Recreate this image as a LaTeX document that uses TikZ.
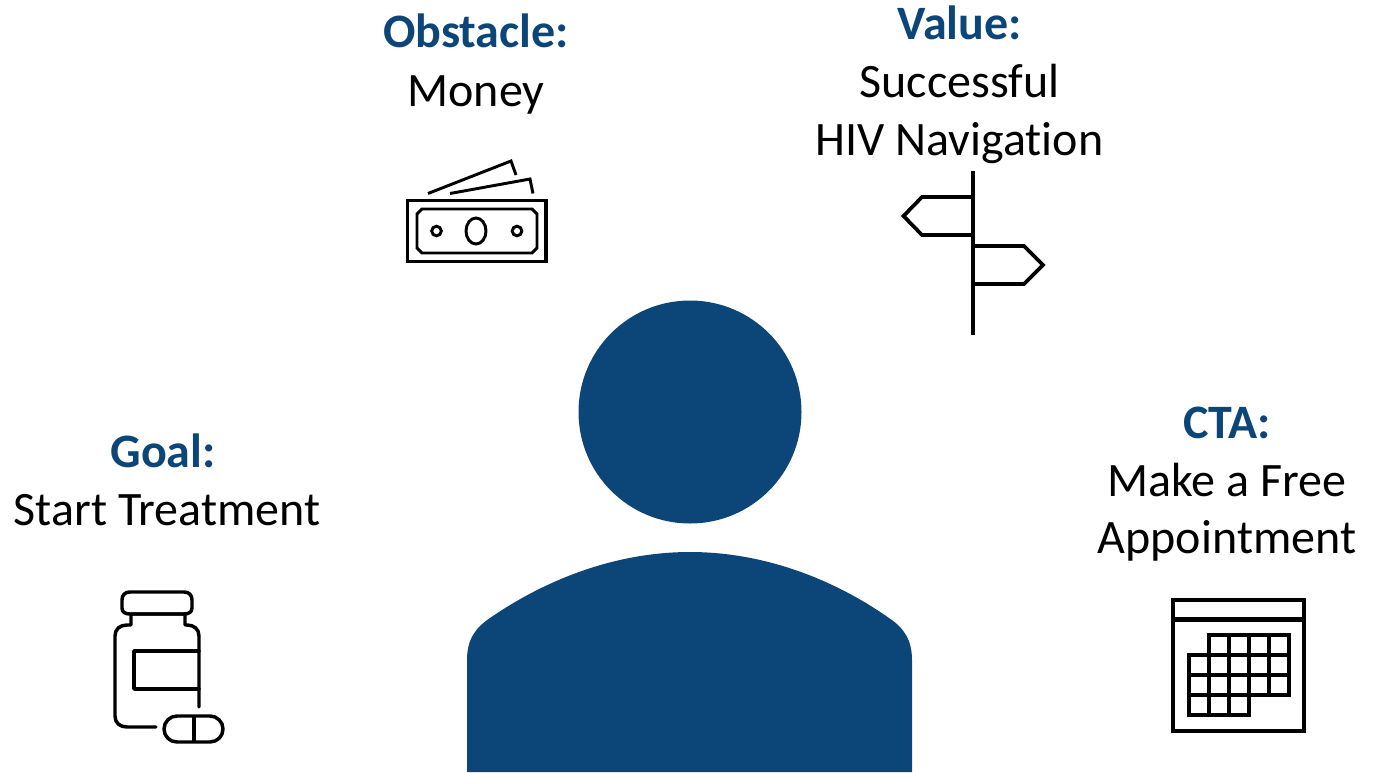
\documentclass[tikz,border=0pt]{standalone}
\usepackage{fontspec}
\setmainfont[Ligatures=NoCommon]{Carlito}
\definecolor{navy}{HTML}{0C4678}
\tikzset{
  x=0.75pt,y=-0.75pt,
  hd/.style={anchor=base,inner sep=0pt,font=\fontsize{36pt}{40pt}\selectfont\bfseries,text=navy},
  tx/.style={anchor=base,inner sep=0pt,font=\fontsize{36pt}{40pt}\selectfont,text=black},
  icon/.style={draw=black,line width=2.8pt,line join=miter},
  iconr/.style={draw=black,line width=2.6pt,line join=round,line cap=round}
}
\begin{document}
\begin{tikzpicture}
\useasboundingbox (0,0) rectangle (1378,772);
% person
\fill[navy] (690,412) circle[radius=111.5];
\fill[navy] (467,772) -- (467,660) .. controls (467,640) and (475,628) .. (490,618)
  .. controls (545,580) and (615,552) .. (690,552)
  .. controls (765,552) and (835,580) .. (889,618)
  .. controls (904,628) and (912,640) .. (912,660) -- (912,772) -- cycle;
% texts
\node[hd] (obs) at (476,47.5) {Obstacle:};
\node[tx] (money) at (476,106) {Money};
\node[hd] (val) at (959.5,39.5) {Value:};
\node[tx] (succ) at (959.5,97.5) {Successful};
\node[tx] (hiv) at (959.5,155.5) {HIV Navigation};
\node[hd] (goal) at (163,467.5) {Goal:};
\node[tx] (start) at (167,525.5) {Start Treatment};
\node[hd] (cta) at (1227,438.5) {CTA:};
\node[tx] (make) at (1227,496) {Make a Free};
\node[tx] (appt) at (1227,553.5) {Appointment};
% money icon
\draw[icon,line width=2.5pt] (407.5,200.5) rectangle (546,261.5);
\draw[icon,line width=2.2pt] (422,209) -- (532,209) -- (537,214) -- (537,248) -- (532,253) -- (422,253) -- (417,248) -- (417,214) -- cycle;
\draw[icon,line width=2.2pt] (476,231) ellipse[x radius=10,y radius=13];
\draw[icon,line width=2.2pt] (436.5,231) circle[radius=4.8];
\draw[icon,line width=2.2pt] (517,231) circle[radius=4.8];
\draw[icon,line width=2.2pt] (428,193.5) -- (511,161) -- (516,175);
\draw[icon,line width=2.2pt] (450,193.5) -- (530,179) -- (533,193.5);
% signpost
\draw[icon] (973,171) -- (973,335);
\draw[icon] (973,197) -- (922,197) -- (903.5,216) -- (922,235) -- (973,235);
\draw[icon] (973,246) -- (1024,246) -- (1043,265) -- (1024,284) -- (973,284);
% bottle
\draw[iconr] (199,707) -- (199,636) .. controls (199,629) and (194,625) .. (187,625) -- (185,625) -- (185,614) -- (131,614) -- (131,625) -- (127,625)
  .. controls (120,625) and (115,629) .. (115,636) -- (115,716) .. controls (115,723) and (120,727) .. (127,727) -- (156,727);
\draw[iconr] (130,614) .. controls (125,614) and (122,612) .. (122,608) -- (122,600) .. controls (122,595) and (125,592) .. (130,592)
  -- (184,592) .. controls (189,592) and (192,595) .. (192,600) -- (192,608) .. controls (192,612) and (189,614) .. (184,614) -- cycle;
\draw[iconr] (199,651) -- (134,651) -- (134,689) -- (199,689);
\draw[iconr] (177,716) -- (210,716) arc[start angle=-90,end angle=90,radius=13] -- (177,742) arc[start angle=90,end angle=270,radius=13] -- cycle;
\draw[iconr,line cap=butt] (194,716) -- (194,742);
% calendar
\draw[icon,line width=3.2pt] (1173,600) rectangle (1304,731);
\draw[icon,line width=3.2pt] (1173,619.5) -- (1304,619.5);
\draw[icon] (1209,635) -- (1289,635) -- (1289,695) -- (1249,695) -- (1249,715) -- (1189,715) -- (1189,655) -- (1209,655) -- cycle;
\draw[icon] (1189,655) -- (1289,655);
\draw[icon] (1189,675) -- (1289,675);
\draw[icon] (1189,695) -- (1249,695);
\draw[icon] (1209,655) -- (1209,715);
\draw[icon] (1229,635) -- (1229,715);
\draw[icon] (1249,635) -- (1249,695);
\draw[icon] (1269,635) -- (1269,695);
\end{tikzpicture}
\end{document}
